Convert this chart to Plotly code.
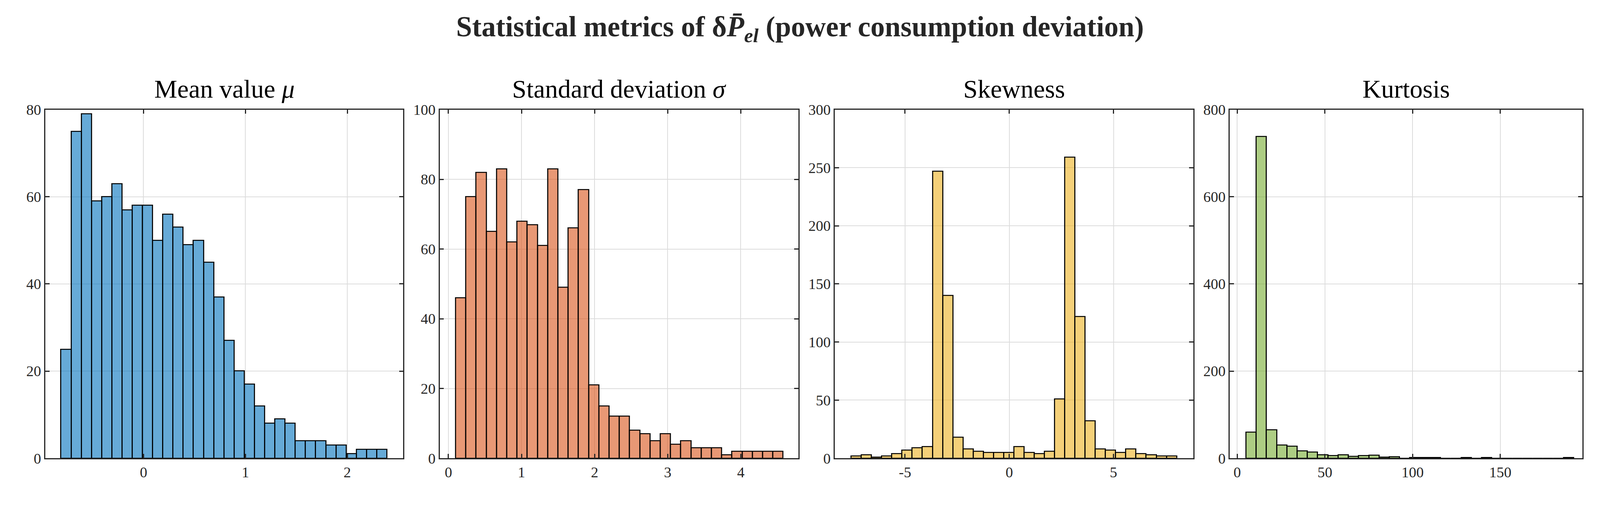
import numpy as np
import plotly.graph_objects as go

# histogram counts (32 bins per panel)
mean_counts = [25, 75, 79, 59, 60, 63, 57, 58, 58, 50, 56, 53, 49, 50, 45, 37,
               27, 20, 17, 12, 8, 9, 8, 4, 4, 4, 3, 3, 1, 2, 2, 2]
std_counts = [46, 75, 82, 65, 83, 62, 68, 67, 61, 83, 49, 66, 77, 21, 15, 12,
              12, 8, 7, 5, 7, 4, 5, 3, 3, 3, 1, 2, 2, 2, 2, 2]
skew_counts = [2, 3, 1, 2, 4, 7, 9, 10, 247, 140, 18, 8, 6, 5, 5, 5,
               10, 5, 4, 6, 51, 259, 122, 32, 8, 7, 5, 8, 4, 3, 2, 2]
kurt_counts = [60, 738, 65, 30, 27, 17, 14, 8, 6, 8, 4, 6, 7, 2, 3, 0,
               1, 1, 1, 0, 0, 1, 0, 1, 0, 0, 0, 0, 0, 0, 0, 1]

# first bin edge and bin width of each histogram
bin_start = [-0.81, 0.099, -7.58, 5.03]
bin_width = [0.1, 0.14, 0.488, 5.84]

titles = ["Mean value <i>μ</i>", "Standard deviation <i>σ</i>", "Skewness", "Kurtosis"]
colors = ["rgba(0,114,189,0.6)", "rgba(217,83,25,0.6)", "rgba(237,177,32,0.6)", "rgba(119,172,48,0.6)"]
x_ranges = [[-0.965, 2.55], [-0.12, 4.79], [-8.37, 8.83], [-4.3, 196.9]]
x_ticks = [[0, 1, 2], [0, 1, 2, 3, 4], [-5, 0, 5], [0, 50, 100, 150]]
x_ticktext = [["0", "1", "2"], ["0", "1", "2", "3", "4"], ["-5", "0", "5"], ["0", "50", "100", "150"]]
y_ranges = [[0, 80], [0, 100], [0, 300], [0, 800]]
y_ticks = [[0, 20, 40, 60, 80], [0, 20, 40, 60, 80, 100],
           [0, 50, 100, 150, 200, 250, 300], [0, 200, 400, 600, 800]]

domains = [[0.0264, 0.2511], [0.2739, 0.4991], [0.5218, 0.7468], [0.7696, 0.991]]
font = "Liberation Serif"

fig = go.Figure()
all_counts = [mean_counts, std_counts, skew_counts, kurt_counts]
for i, counts in enumerate(all_counts):
    edges = bin_start[i] + bin_width[i] * np.arange(len(counts))
    ax = "" if i == 0 else str(i + 1)
    fig.add_trace(go.Bar(
        x=edges, y=counts, width=bin_width[i], offset=0,
        marker=dict(color=colors[i], line=dict(color="black", width=2.7)),
        xaxis="x" + ax, yaxis="y" + ax, showlegend=False,
    ))
    axis_style = dict(
        showline=True, linecolor="#262626", linewidth=2.7, mirror="ticks",
        ticks="inside", ticklen=11, tickwidth=2.7, tickcolor="#262626",
        showgrid=True, gridcolor="#dcdcdc", gridwidth=2, zeroline=False,
        tickfont=dict(family=font, size=38, color="#262626"),
    )
    fig.update_layout(**{
        "xaxis" + ax: dict(axis_style, domain=domains[i], range=x_ranges[i],
                           tickvals=x_ticks[i], ticktext=x_ticktext[i], anchor="y" + ax),
        "yaxis" + ax: dict(axis_style, domain=[0.1068, 0.8036], range=y_ranges[i],
                           tickvals=y_ticks[i], anchor="x" + ax),
    })
    fig.add_annotation(
        text=titles[i], xref="paper", yref="paper",
        x=sum(domains[i]) / 2, y=0.815, xanchor="center", yanchor="bottom",
        showarrow=False, font=dict(family=font, size=66, color="black"),
    )

# no fixed size: the figure fills the browser window
fig.update_layout(
    paper_bgcolor="white", plot_bgcolor="white",
    bargap=0,
    margin=dict(l=0, r=0, t=0, b=0),
    title=dict(
        text="<b>Statistical metrics of δ<i>P̄</i><sub><i>el</i></sub> (power consumption deviation)</b>",
        x=0.5, y=0.955, xanchor="center", yanchor="middle",
        font=dict(family=font, size=73, color="#262626"),
    ),
)

fig.write_html("out.html")
